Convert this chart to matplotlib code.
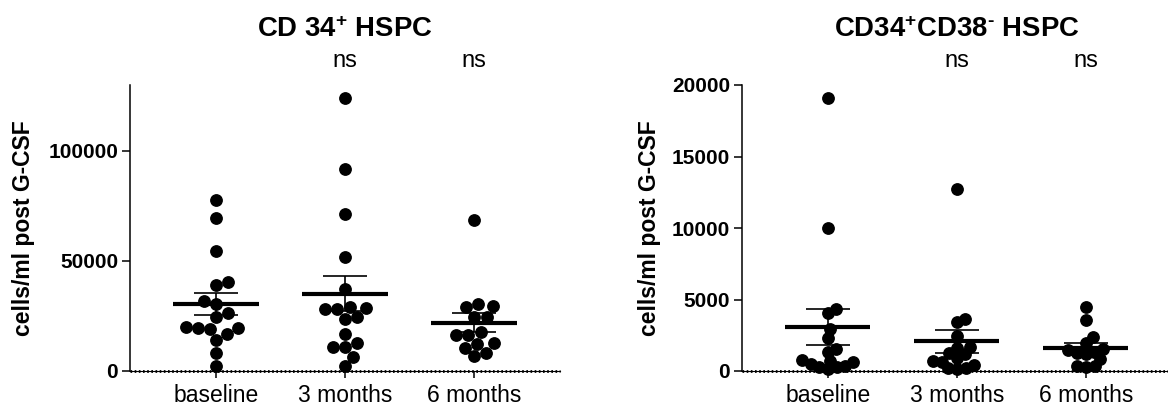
import numpy as np
import matplotlib.pyplot as plt
from matplotlib.transforms import blended_transform_factory

plt.rcParams['font.family'] = ['Liberation Sans', 'DejaVu Sans']
plt.rcParams['mathtext.fontset'] = 'custom'
plt.rcParams['mathtext.rm'] = 'Liberation Sans:bold'
plt.rcParams['mathtext.bf'] = 'Liberation Sans:bold'
plt.rcParams['mathtext.default'] = 'bf'

groups = ['baseline', '3 months', '6 months']

# CD34+ HSPC, cells/ml post G-CSF
cd34_baseline = [77700, 69500, 54700, 40500, 39200, 32000, 30500, 26500, 24700,
                 20200, 19500, 19500, 19200, 16800, 14100, 8300, 2300]
cd34_3m = [124000, 91700, 71400, 51700, 37300, 29200, 28600, 28000, 28000,
           24700, 23500, 16800, 12900, 11000, 11000, 6500, 2300]
cd34_6m = [68600, 30500, 29500, 29000, 24700, 24700, 17700, 16400, 16400,
           12600, 12300, 10600, 8000, 6800]

# CD34+CD38- HSPC
cd38_baseline = [19100, 10000, 4330, 4070, 2940, 2340, 1530, 1340, 760, 720,
                 650, 490, 370, 250, 250, 120]
cd38_3m = [12700, 3660, 3420, 2450, 1690, 1640, 1230, 1180, 880, 690, 650,
           420, 190, 190, 120]
cd38_6m = [4470, 3540, 2380, 1970, 1530, 1460, 1340, 1230, 1180, 830, 370,
           350, 250]

ns_labels = ['', 'ns', 'ns']


# simple beeswarm: spread points sideways (in pixels) so they don't overlap too much
def swarm_x(ax, x0, values, diam):
    pts = ax.transData.transform(np.column_stack([np.full(len(values), x0), values]))
    ypix = pts[:, 1]
    placed = []
    dx = np.zeros(len(values))
    for i in np.argsort(ypix):
        y = ypix[i]
        cands = [0.0]
        for px, py in placed:
            dy = abs(y - py)
            if dy < diam:
                h = np.sqrt(diam ** 2 - dy ** 2)
                cands += [px + h, px - h]
        cands.sort(key=abs)
        for c in cands:
            if all((c - px) ** 2 + (y - py) ** 2 >= diam ** 2 - 1e-6 for px, py in placed):
                break
        placed.append((c, y))
        dx[i] = c
    back = ax.transData.inverted().transform(np.column_stack([pts[:, 0] + dx, ypix]))
    return back[:, 0]


def panel(ax, data, ymax, yticks, title, gap):
    ax.set_xlim(-2 / 3, 2 + 2 / 3)
    ax.set_ylim(0, ymax)
    for i, vals in enumerate(data):
        vals = np.array(vals, dtype=float)
        xs = swarm_x(ax, i, vals, gap)
        ax.plot(xs, vals, 'o', ms=8.2, color='black', mec='black', clip_on=False, zorder=2)
        m = vals.mean()
        sem = vals.std(ddof=1) / np.sqrt(len(vals))
        ax.hlines(m, i - 0.33, i + 0.33, lw=3, color='black', zorder=3)
        ax.errorbar(i, m, yerr=sem, fmt='none', ecolor='black', elinewidth=1.2,
                    capsize=15.6, capthick=1.2, zorder=3)

    trans = blended_transform_factory(ax.transData, ax.transAxes)
    for i, t in enumerate(ns_labels):
        if t:
            ax.text(i, 1.064, t, transform=trans, ha='center', va='baseline', fontsize=17)
    ax.text(0.5, 1.167, title, transform=ax.transAxes, ha='center', va='baseline',
            fontsize=19.8, fontweight='bold')

    ax.set_xticks(range(len(groups)))
    ax.set_xticklabels(groups)
    ax.set_yticks(yticks)
    ax.tick_params(axis='x', length=5, width=1.1, labelsize=16.5, pad=4)
    ax.tick_params(axis='y', length=5.5, width=1.1, labelsize=15, pad=3)
    for lbl in ax.get_yticklabels():
        lbl.set_fontweight('bold')
    ax.set_ylabel('cells/ml post G-CSF', fontsize=16.5, fontweight='bold')

    for s in ['top', 'right', 'bottom']:
        ax.spines[s].set_visible(False)
    ax.spines['left'].set_linewidth(1.1)
    ax.axhline(0, color='black', lw=0.8, clip_on=False, zorder=1)
    ax.axhline(0, color='black', lw=2, ls=(0, (0.6, 0.9)), clip_on=False, zorder=1)


fig = plt.figure(figsize=(11.68, 4.12), dpi=100)
ax1 = fig.add_axes([130 / 1168, 41 / 412, 430 / 1168, 286 / 412])
ax2 = fig.add_axes([741.7 / 1168, 41 / 412, 430 / 1168, 286 / 412])

panel(ax1, [cd34_baseline, cd34_3m, cd34_6m], 130000, [0, 50000, 100000],
      r'CD 34$^{+}$ HSPC', 12.5)
panel(ax2, [cd38_baseline, cd38_3m, cd38_6m], 20000, [0, 5000, 10000, 15000, 20000],
      r'CD34$^{+}$CD38$^{\text{-}}$ HSPC', 9)

ax1.yaxis.set_label_coords(-0.222, 0.5)
ax2.yaxis.set_label_coords(-0.188, 0.5)

fig.savefig('out.png', dpi=100)
